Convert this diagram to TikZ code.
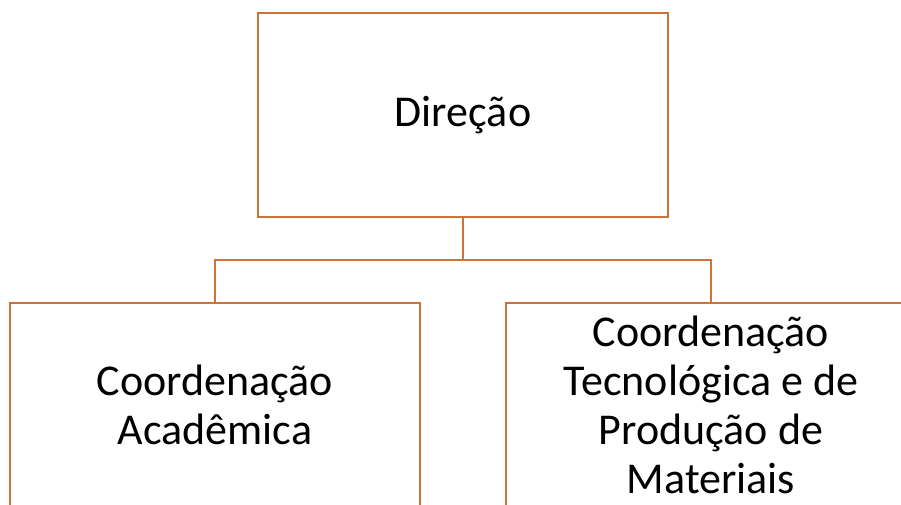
\documentclass[tikz,border=0pt]{standalone}
\usepackage{fontspec}
\setmainfont{Carlito}
\usepackage{tikz}
\definecolor{laranja}{RGB}{205,115,55}
\tikzset{
  caixa/.style={rectangle, draw=laranja, line width=2.2pt, fill=white,
    minimum width=410pt, minimum height=204pt, align=center,
    font=\fontsize{44}{49}\selectfont},
  liga/.style={draw=laranja, line width=2.2pt}
}

\begin{document}
\begin{tikzpicture}[x=1pt, y=-1pt]
        \useasboundingbox (0,0) rectangle (901,504);
        \clip (0,0) rectangle (901,504);
        \node[caixa] (direcao) at (463,115) {Direção};
        \node[caixa] (acad) at (215,405) {Coordenação\\Acadêmica};
        \node[caixa] (tec) at (711,405) {Coordenação\\Tecnológica e de\\Produção de\\Materiais};
        \coordinate (barra) at (463,260);
        \draw[liga] (direcao.south) -- (barra);
        \draw[liga] (acad.north) |- (barra) -| (tec.north);
      \end{tikzpicture}
\end{document}
